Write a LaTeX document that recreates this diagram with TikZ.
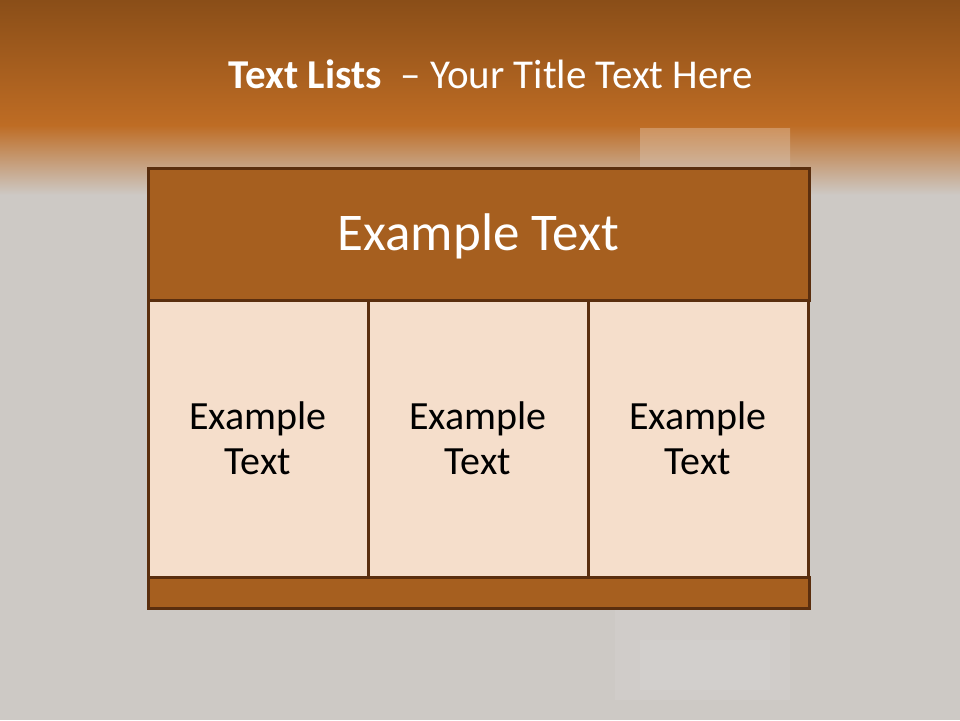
\documentclass[tikz,border=0pt]{standalone}
\usepackage{fontspec}
\setmainfont{Carlito}
\usetikzlibrary{positioning}
\definecolor{bandtop}{HTML}{8A4E18}
\definecolor{bandlow}{HTML}{BE6C24}
\definecolor{slategrey}{HTML}{CDC9C5}
\definecolor{headfill}{HTML}{A65F1F}
\definecolor{cellfill}{HTML}{F5DECB}
\definecolor{rimbrown}{HTML}{5A2E0E}
\tikzset{
  tablebox/.style={draw=rimbrown,line width=3pt,outer sep=0pt,inner sep=0pt},
  cell/.style={tablebox,fill=cellfill,minimum width=220pt,minimum height=277pt,
    align=center,text=black,font=\fontsize{40}{45}\selectfont},
}
\begin{document}
\begin{tikzpicture}[x=1pt,y=-1pt]
  \useasboundingbox (0,0) rectangle (960,720);
  % background
  \fill[slategrey] (0,0) rectangle (960,720);
  \shade[top color=bandtop,bottom color=bandlow] (0,0) rectangle (960,125);
  \shade[top color=bandlow,bottom color=slategrey] (0,125) rectangle (960,195);
  \shade[top color=white,bottom color=slategrey,opacity=0.25] (640,128) rectangle (790,200);
  \fill[white,opacity=0.07] (615,610) rectangle (790,700);
  \fill[white,opacity=0.06] (640,640) rectangle (770,690);
  % title
  \node[anchor=base,text=white,font=\fontsize{41}{48}\selectfont] (title) at (491,88)
    {\textbf{Text Lists}\ \ -- Your Title Text Here};
  % table
  \node[tablebox,fill=headfill,anchor=north west,minimum width=661pt,minimum height=132pt]
    (header) at (148,168) {};
  \node[cell,anchor=north west] (cellA) at (header.south west) {Example\\Text};
  \node[cell,right=0pt of cellA] (cellB) {Example\\Text};
  \node[cell,right=0pt of cellB] (cellC) {Example\\Text};
  \node[tablebox,fill=headfill,anchor=north west,minimum width=661pt,minimum height=31pt]
    (footer) at (cellA.south west) {};
  \node[anchor=base,text=white,font=\fontsize{53}{60}\selectfont] (headtext) at (header.center |- 0,250) {Example Text};
\end{tikzpicture}
\end{document}
